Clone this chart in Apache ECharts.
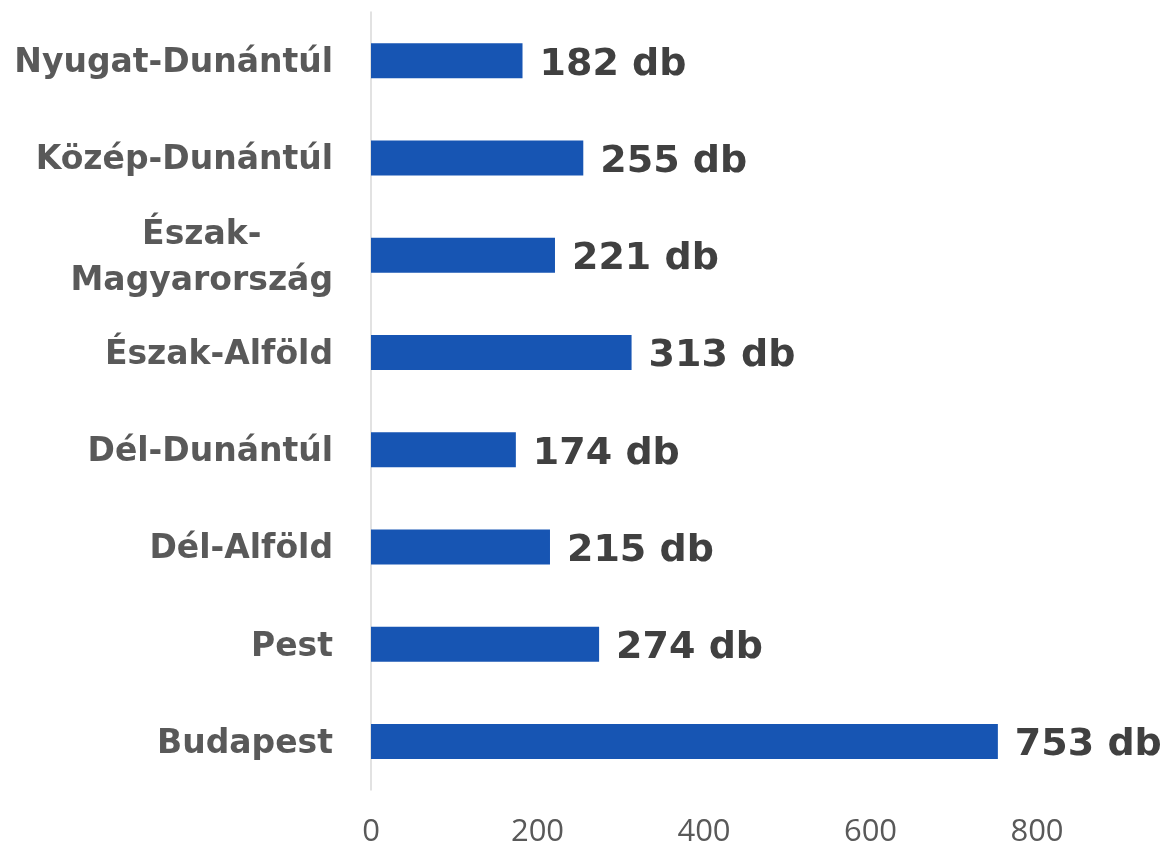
<!DOCTYPE html>
<html style="height: 100%">
    <head>
        <meta charset="utf-8">
    </head>
    <body style="height: 100%; margin: 0; background: #fff">
        <div id="container" style="height: 848px; width: 1168px;"></div>

        <script type="text/javascript" src="https://cdn.jsdelivr.net/npm/echarts@6/dist/echarts.min.js"></script>
        <script type="text/javascript">
var dom = document.getElementById("container");
var myChart = echarts.init(dom);

// regions, bottom to top (category axis runs upward)
var regions = [
	"Budapest",
	"Pest",
	"Dél-Alföld",
	"Dél-Dunántúl",
	"Észak-Alföld",
	"Észak-Magyarország",
	"Közép-Dunántúl",
	"Nyugat-Dunántúl"
];

var counts = [753, 274, 215, 174, 313, 221, 255, 182];

var axisTicks = [0, 200, 400, 600, 800];

var LABEL_FONT = 'DejaVu Sans';

var option = {
	backgroundColor: '#ffffff',
	grid: {
		left: 371,
		right: 131,
		top: 12,
		bottom: 58,
		containLabel: false,
		outerBoundsMode: 'none'
	},
	xAxis: {
		type: 'value',
		min: axisTicks[0],
		max: axisTicks[axisTicks.length - 1],
		interval: axisTicks[1] - axisTicks[0],
		axisLine: {show: false},
		axisTick: {show: false},
		splitLine: {show: false},
		axisLabel: {
			color: '#595959',
			fontFamily: 'Open Sans',
			fontSize: 31,
			margin: 27
		}
	},
	yAxis: {
		type: 'category',
		data: regions,
		axisLine: {show: true, lineStyle: {color: '#d9d9d9', width: 1.5}},
		axisTick: {show: false},
		axisLabel: {
			color: '#595959',
			fontFamily: LABEL_FONT,
			fontWeight: 'bold',
			fontSize: 33,
			margin: 38,
			padding: [6, 0, 0, 0],
			formatter: function (v) {
				if (v === 'Észak-Magyarország') {
					return '{c|Észak-}\n{c|Magyarország}';
				}
				return v;
			},
			rich: {
				c: {
					align: 'center',
					color: '#595959',
					fontFamily: LABEL_FONT,
					fontWeight: 'bold',
					fontSize: 33,
					lineHeight: 46
				}
			}
		}
	},
	series: [
		{
			type: 'bar',
			data: counts,
			barWidth: 35,
			itemStyle: {color: '#1755b3'},
			label: {
				show: true,
				position: 'right',
				distance: 17,
				color: '#404040',
				fontFamily: LABEL_FONT,
				fontWeight: 'bold',
				fontSize: 38,
				offset: [0, 4],
				formatter: function (p) {
					return p.value + ' db';
				}
			}
		}
	]
};

myChart.setOption(option);
        </script>
    </body>
</html>
